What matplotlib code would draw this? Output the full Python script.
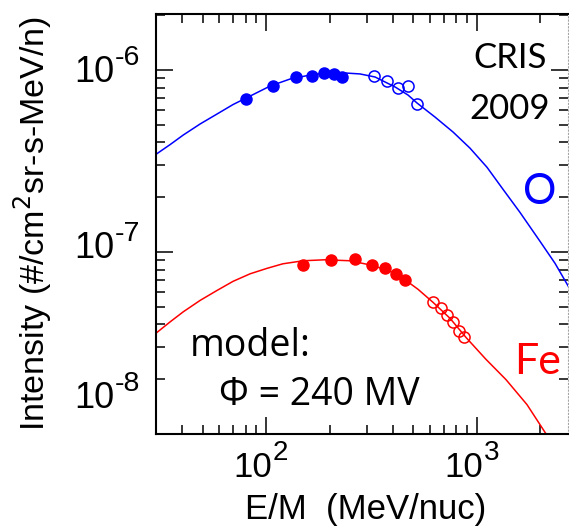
import matplotlib.pyplot as plt

# CRIS 2009 measurements (E/M in MeV/nuc, intensity in #/cm2 sr s MeV/n)
o_e_filled = [80, 108, 138, 165, 188, 210, 230]
o_i_filled = [6.9e-7, 8.2e-7, 9.1e-7, 9.3e-7, 9.6e-7, 9.5e-7, 9.1e-7]
o_e_open = [326, 374, 422, 474, 522]
o_i_open = [9.3e-7, 8.7e-7, 8.0e-7, 8.2e-7, 6.5e-7]

fe_e_filled = [149, 203, 265, 317, 367, 413, 457]
fe_i_filled = [8.5e-8, 9.0e-8, 9.1e-8, 8.5e-8, 8.2e-8, 7.6e-8, 7.0e-8]
fe_e_open = [618, 675, 721, 769, 824, 870]
fe_i_open = [5.3e-8, 4.9e-8, 4.5e-8, 4.1e-8, 3.7e-8, 3.4e-8]

# model curves (phi = 240 MV)
o_model_e = [30.1, 35.0, 40.4, 48.6, 58.5, 69.7, 84.0, 104.5, 130, 167, 217,
             279, 329, 410, 472, 521, 634, 772, 929, 1119, 1333, 1605, 1997,
             2353, 2742]
o_model_i = [3.45e-7, 3.89e-7, 4.39e-7, 5.05e-7, 5.73e-7, 6.46e-7, 7.19e-7,
             8.16e-7, 8.92e-7, 9.45e-7, 9.69e-7, 9.51e-7, 9.15e-7, 8.06e-7,
             7.28e-7, 6.58e-7, 5.51e-7, 4.56e-7, 3.72e-7, 2.92e-7, 2.21e-7,
             1.65e-7, 1.145e-7, 8.67e-8, 6.39e-8]
fe_model_e = [30.1, 35.0, 40.4, 48.6, 58.5, 69.7, 84.0, 101, 120, 150, 190,
              250, 318, 388, 447, 527, 620, 747, 890, 1107, 1377, 1733, 2145]
fe_model_i = [3.59e-8, 4.13e-8, 4.69e-8, 5.42e-8, 6.15e-8, 6.90e-8, 7.59e-8,
              8.13e-8, 8.61e-8, 8.95e-8, 9.06e-8, 8.95e-8, 8.45e-8, 7.83e-8,
              7.17e-8, 6.23e-8, 5.29e-8, 4.32e-8, 3.39e-8, 2.57e-8, 1.99e-8,
              1.45e-8, 9.92e-9]

x_ticks = [100, 1000]
x_exps = ['2', '3']
y_ticks = [1e-6, 1e-7, 1e-8]
y_exps = ['-6', '-7', '-8']
y_label_shift = [-12, -6, 26]  # baseline of "10" relative to the tick, px

W, H = 569, 529
fig = plt.figure(figsize=(W / 100, H / 100), dpi=100)
ax = fig.add_axes([156 / W, 1 - 434 / H, 412 / W, 420 / H])

ax.plot(o_model_e, o_model_i, color='blue', lw=1.1)
ax.plot(fe_model_e, fe_model_i, color='red', lw=1.1)
ax.plot(o_e_filled, o_i_filled, 'o', color='blue', ms=8, mec='blue')
ax.plot(o_e_open, o_i_open, 'o', mfc='none', mec='blue', ms=8, mew=1.1)
ax.plot(fe_e_filled, fe_i_filled, 'o', color='red', ms=8, mec='red')
ax.plot(fe_e_open, fe_i_open, 'o', mfc='none', mec='red', ms=8, mew=1.1)

ax.set_xscale('log')
ax.set_yscale('log')
ax.set_xlim(30, 2713)
ax.set_ylim(1e-8, 2.03e-6)

for s in ['left', 'bottom', 'top']:
    ax.spines[s].set_linewidth(1.5)
ax.spines['right'].set_color('0.65')
ax.spines['right'].set_linestyle((0, (1, 2)))
ax.tick_params(which='both', direction='in', top=True, right=True,
               labelbottom=False, labelleft=False, width=1.1)
ax.tick_params(which='major', length=12)
ax.tick_params(which='minor', length=6.5)

tick_font = dict(family='Liberation Sans', color='black')
for v, e in zip(x_ticks, x_exps):
    ax.annotate('10', xy=(v, 0), xycoords=('data', 'axes fraction'),
                xytext=(6, -43), textcoords='offset pixels',
                ha='right', va='baseline', fontsize=25, **tick_font)
    ax.annotate(e, xy=(v, 0), xycoords=('data', 'axes fraction'),
                xytext=(7, -26), textcoords='offset pixels',
                ha='left', va='baseline', fontsize=20, **tick_font)
for v, e, sh in zip(y_ticks, y_exps, y_label_shift):
    ax.annotate('10', xy=(0, v), xycoords=('axes fraction', 'data'),
                xytext=(-42, sh), textcoords='offset pixels',
                ha='right', va='baseline', fontsize=26, **tick_font)
    ax.annotate(e, xy=(0, v), xycoords=('axes fraction', 'data'),
                xytext=(-41, sh + 17), textcoords='offset pixels',
                ha='left', va='baseline', fontsize=20.5, **tick_font)

fig.text(366 / W, 1 - 519 / H, 'E/M  (MeV/nuc)', ha='center', va='baseline',
         fontsize=25, **tick_font)
fig.text(33 / W, 1 - 224 / H, 'Intensity (#/cm$^2$sr-s-MeV/n)', rotation=90,
         ha='center', va='center', fontsize=24.5, **tick_font)

txt = dict(family='Lato')
ax.text(510 / W, 1 - 58 / H, 'CRIS', transform=fig.transFigure,
        ha='center', va='center', fontsize=25, **txt)
ax.text(510 / W, 1 - 109 / H, '2009', transform=fig.transFigure,
        ha='center', va='center', fontsize=25, **txt)
ax.text(540 / W, 1 - 192 / H, 'O', transform=fig.transFigure, color='blue',
        ha='center', va='center', fontsize=30, **txt)
ax.text(538 / W, 1 - 362 / H, 'Fe', transform=fig.transFigure, color='red',
        ha='center', va='center', fontsize=31, **txt)
model_font = dict(family='Open Sans')
ax.text(190 / W, 1 - 356 / H, 'model:', transform=fig.transFigure,
        ha='left', va='baseline', fontsize=27, **model_font)
ax.text(219 / W, 1 - 405 / H, '\u03a6 = 240 MV', transform=fig.transFigure,
        ha='left', va='baseline', fontsize=27, **model_font)

fig.savefig('out.png', dpi=100)
